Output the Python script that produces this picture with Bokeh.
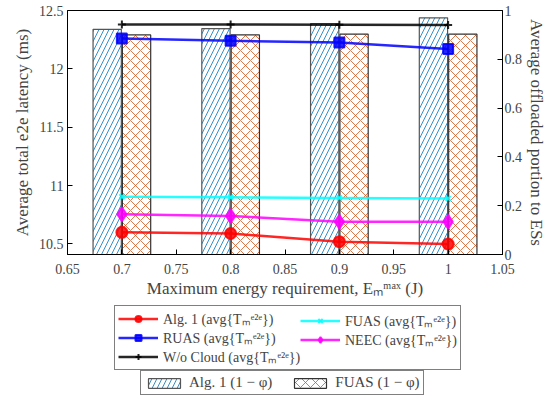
from bokeh.plotting import figure
from bokeh.layouts import column
from bokeh.models import (Range1d, LinearAxis, FixedTicker, CustomJSTickFormatter,
                          Legend, LegendItem, ColumnDataSource)
from bokeh.embed import file_html
from bokeh.resources import INLINE

# ---- data ----
energy = [0.7, 0.8, 0.9, 1.0]
alg1_lat = [10.60, 10.59, 10.52, 10.50]
ruas_lat = [12.26, 12.24, 12.225, 12.17]
wocloud_lat = [12.38, 12.38, 12.378, 12.375]
fuas_lat = [10.905, 10.90, 10.895, 10.89]
neec_lat = [10.755, 10.74, 10.69, 10.69]
alg1_off = [0.923, 0.926, 0.946, 0.970]
fuas_off = [0.900, 0.900, 0.903, 0.903]

x_ticks = [0.65, 0.7, 0.75, 0.8, 0.85, 0.9, 0.95, 1.0, 1.05]
yl_ticks = [10.5, 11, 11.5, 12, 12.5]
yr_ticks = [0, 0.2, 0.4, 0.6, 0.8, 1]

FONT = "Liberation Serif"
fmt = CustomJSTickFormatter(code="return String(Math.round(tick*100)/100)")

W = 552
BL, BR = 67, 50
p = figure(width=W, height=300, output_backend="svg", toolbar_location=None,
           x_range=Range1d(0.65, 1.05), y_range=Range1d(10.41, 12.5),
           min_border_left=BL, min_border_right=BR, min_border_top=10,
           min_border_bottom=42)
p.extra_y_ranges = {"off": Range1d(0, 1)}
p.xgrid.visible = False
p.ygrid.visible = False
p.outline_line_color = "black"
p.outline_line_width = 1

def style_axis(ax):
    ax.major_tick_in = 5
    ax.major_tick_out = 0
    ax.minor_tick_in = 0
    ax.minor_tick_out = 0
    ax.axis_line_color = "black"
    ax.major_label_text_font = FONT
    ax.major_label_text_font_size = "14px"
    ax.axis_label_text_font = FONT
    ax.axis_label_text_font_size = "17px"
    ax.axis_label_text_font_style = "normal"
    ax.formatter = fmt

style_axis(p.xaxis[0])
p.xaxis[0].ticker = FixedTicker(ticks=x_ticks)
p.xaxis[0].axis_label = "Maximum energy requirement, Eₘᵐᵃˣ (J)"
p.xaxis[0].axis_label_standoff = 2
p.xaxis[0].major_label_standoff = 9
style_axis(p.yaxis[0])
p.yaxis[0].ticker = FixedTicker(ticks=yl_ticks)
p.yaxis[0].axis_label = "Average total e2e latency (ms)"
p.yaxis[0].axis_label_standoff = 4
p.yaxis[0].major_label_standoff = 4

ra = LinearAxis(y_range_name="off", ticker=FixedTicker(ticks=yr_ticks),
                axis_label="Average offloaded portion to ESs")
style_axis(ra)
ra.axis_label_standoff = 2
ra.major_label_standoff = 2
p.add_layout(ra, "right")

# ---- bars ----
bw = 0.026
off = 0.0135
src = ColumnDataSource(dict(
    xa=[e - off for e in energy], xf=[e + off for e in energy],
    a=alg1_off, f=fuas_off))
BAR1 = dict(fill_color="white", line_color="#555555", line_width=1.2,
            hatch_pattern="right_diagonal_line", hatch_color="#0072BD",
            hatch_scale=10, hatch_weight=0.8)
BAR2 = dict(fill_color="white", line_color="#333333", line_width=1.2,
            hatch_pattern="diagonal_cross", hatch_color="#D95319",
            hatch_scale=10, hatch_weight=0.8)
p.vbar(x="xa", top="a", width=bw, bottom=0, source=src, y_range_name="off", **BAR1)
p.vbar(x="xf", top="f", width=bw, bottom=0, source=src, y_range_name="off", **BAR2)

SERIES = [
    ("Alg. 1 (avg{Tₘᵉ²ᵉ})", alg1_lat, "red", "circle", 11),
    ("RUAS (avg{Tₘᵉ²ᵉ})", ruas_lat, "blue", "square", 10),
    ("W/o Cloud (avg{Tₘᵉ²ᵉ})", wocloud_lat, "black", "cross", 8),
    ("FUAS (avg{Tₘᵉ²ᵉ})", fuas_lat, "cyan", "x", 7),
    ("NEEC (avg{Tₘᵉ²ᵉ})", neec_lat, "magenta", "diamond", 14),
]

def series(fig, y, color, marker, size):
    l = fig.line(energy, y, line_color=color, line_width=2.5, line_alpha=0.85)
    m = fig.scatter(energy, y, marker=marker, size=size, fill_color=color,
                    line_color=color, line_width=2, alpha=0.85)
    return [l, m]

for _, y, c, mk, s in SERIES:
    series(p, y, c, mk, s)

# ---- legend panel (same glyphs, drawn out of view) ----
LH = 96
q = figure(width=W, height=LH, output_backend="svg", toolbar_location=None,
           x_range=Range1d(0, 1), y_range=Range1d(100, 101),
           x_axis_location=None, y_axis_location=None,
           min_border_left=BL, min_border_right=BR, min_border_top=0,
           min_border_bottom=0)
q.xgrid.visible = False
q.ygrid.visible = False
q.outline_line_color = None

items = [LegendItem(label=lab, renderers=series(q, y, c, mk, s))
         for lab, y, c, mk, s in SERIES]
qb1 = q.vbar(x="xa", top="a", width=bw, bottom=0, source=src, **BAR1)
qb2 = q.vbar(x="xf", top="f", width=bw, bottom=0, source=src, **BAR2)

def style_legend(lg):
    lg.label_text_font = FONT
    lg.label_text_font_size = "14px"
    lg.border_line_color = "black"
    lg.border_line_width = 1
    lg.background_fill_color = "white"
    lg.background_fill_alpha = 1
    lg.spacing = 0
    lg.padding = 3
    lg.margin = 0
    lg.label_height = 15
    lg.glyph_height = 15
    lg.glyph_width = 40
    lg.label_standoff = 5

# first column carries the common box
legA = Legend(items=items[:3], orientation="vertical", location=(47, 26))
style_legend(legA)
legA.label_width = 294
q.add_layout(legA, "center")

# second column drawn inside the same box
legB = Legend(items=items[3:], orientation="vertical", location=(233, 47))
style_legend(legB)
legB.border_line_color = None
legB.background_fill_alpha = 0
q.add_layout(legB, "center")

leg2 = Legend(items=[
    LegendItem(label="Alg. 1 (1 − φ)", renderers=[qb1]),
    LegendItem(label="FUAS (1 − φ)", renderers=[qb2]),
], orientation="horizontal", location=(73, 1))
style_legend(leg2)
leg2.label_text_font_size = "15px"
leg2.label_height = 15
leg2.glyph_height = 12
leg2.spacing = 18
q.add_layout(leg2, "center")

open("out.html", "w").write(file_html(column(p, q, spacing=0), INLINE))
